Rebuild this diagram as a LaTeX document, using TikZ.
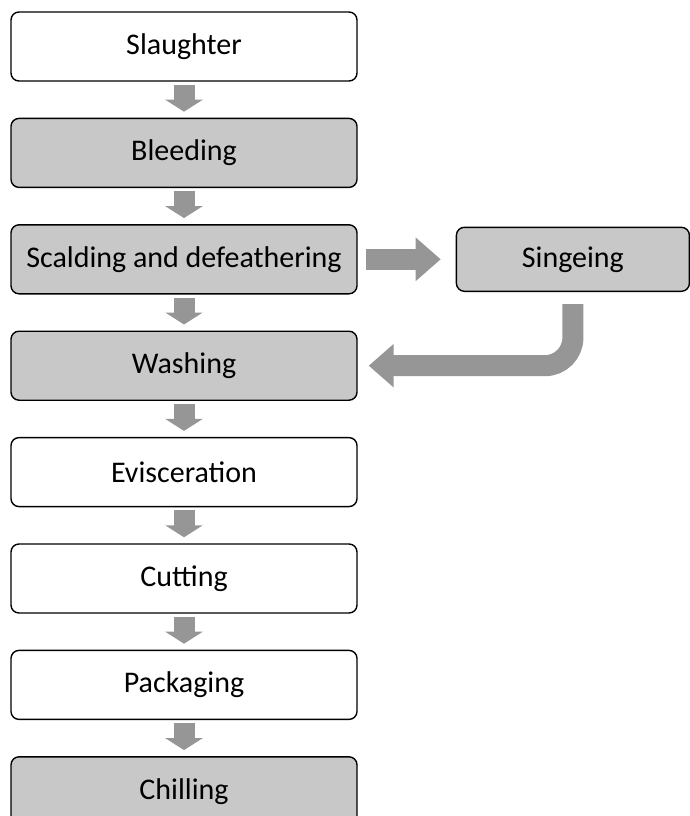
\documentclass[tikz,border=0pt]{standalone}
\usepackage{fontspec}
\setmainfont{Carlito}
\usetikzlibrary{positioning,arrows.meta}

\definecolor{boxgray}{RGB}{200,200,200}
\definecolor{arrowgray}{RGB}{150,150,150}

\tikzset{
  stage/.style={draw, rounded corners=8pt, line width=1.4pt, minimum width=346pt, minimum height=69pt, font=\fontsize{30}{36}\selectfont},
  hot/.style={stage, fill=boxgray},
  flow/.style={draw=arrowgray, line width=21pt, -{Triangle[width=37pt,length=12pt]}},
  sideflow/.style={draw=arrowgray, line width=21pt, -{Triangle[width=42pt,length=25pt]}}
}

\begin{document}
\begin{tikzpicture}[x=1pt, y=1pt, node distance=36pt]

\useasboundingbox (0,0) rectangle (689,-816);

\node[stage] (slaughter) at (184,-46.5) {Slaughter};
\node[hot, below=of slaughter] (bleeding) {Bleeding};
\node[hot, below=of bleeding] (scalding) {Scalding and defeathering};
\node[hot, below=of scalding] (washing) {Washing};
\node[stage, below=of washing] (evisceration) {Evisceration};
\node[stage, below=of evisceration] (cutting) {Cutting};
\node[stage, below=of cutting] (packaging) {Packaging};
\node[hot, below=of packaging] (chilling) {Chilling};

\node[hot, right=98pt of scalding, minimum width=233pt, minimum height=64pt] (singeing) {Singeing};

% downward steps
\foreach \a/\b in {slaughter/bleeding, bleeding/scalding, scalding/washing, washing/evisceration, evisceration/cutting, cutting/packaging, packaging/chilling}
  \draw[flow] ([yshift=-3pt]\a.south) -- ([yshift=6pt]\b.north);

% side branch
\draw[sideflow] ([xshift=8pt]scalding.east) -- ([xshift=-15pt]singeing.west);
\draw[sideflow, rounded corners=28pt] ([yshift=-12pt]singeing.south) |- ([xshift=11pt]washing.east);

\end{tikzpicture}
\end{document}
